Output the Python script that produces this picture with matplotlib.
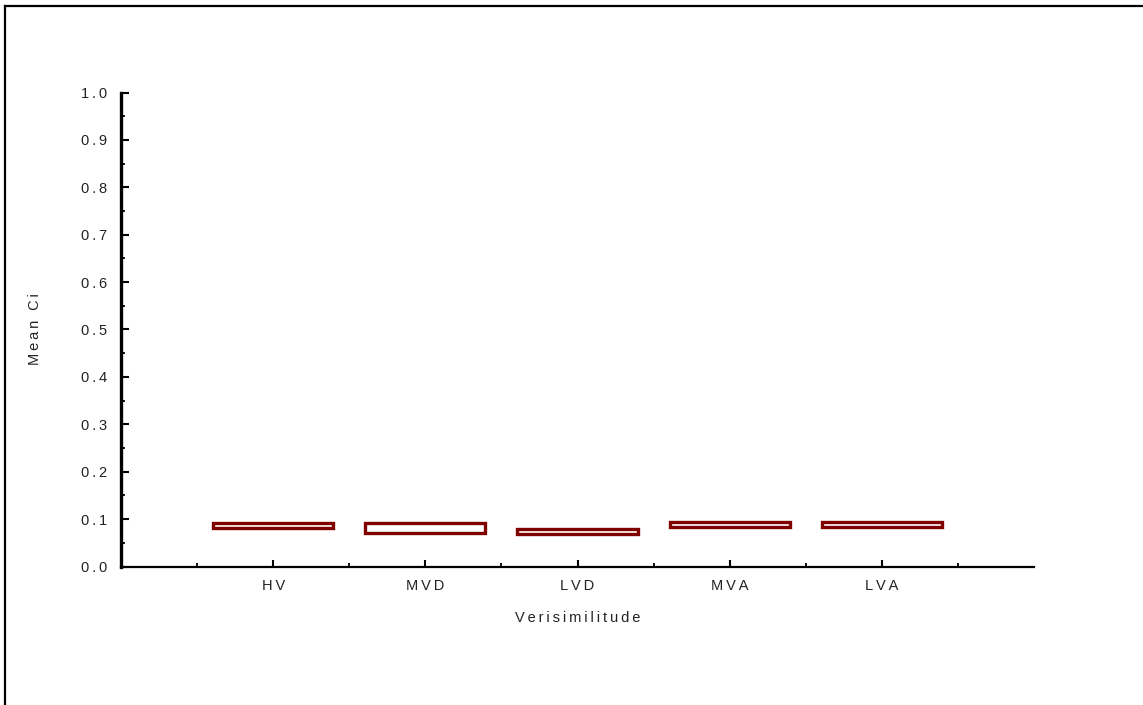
import matplotlib
matplotlib.use("Agg")
import matplotlib.pyplot as plt
from matplotlib.lines import Line2D
from matplotlib.ticker import MultipleLocator, FixedLocator

# données
categories = ["HV", "MVD", "LVD", "MVA", "LVA"]
box_low = [0.082, 0.071, 0.069, 0.0825, 0.0825]
box_high = [0.092, 0.0915, 0.080, 0.093, 0.093]

SP = "\u2009"  # espacement des lettres comme sur l'original


def espacer(txt):
    return SP.join(list(txt))


plt.rcParams['font.family'] = ['Liberation Sans', 'DejaVu Sans']

fig = plt.figure(figsize=(11.43, 7.05), dpi=100)
ax = fig.add_axes([121 / 1143, 1 - 566.5 / 705, (1034 - 121) / 1143, (566.5 - 92.5) / 705])

pos = list(range(1, len(categories) + 1))
hauteurs = [h - l for h, l in zip(box_high, box_low)]
ax.bar(pos, hauteurs, bottom=box_low, width=0.79, color='white',
       edgecolor='#800000', linewidth=2.4, zorder=3)

ax.set_xlim(0, 6)
ax.set_ylim(0, 1.0)

# axes
ax.spines['top'].set_visible(False)
ax.spines['right'].set_visible(False)
ax.spines['left'].set_linewidth(2.4)
ax.spines['bottom'].set_linewidth(1.6)

ax.yaxis.set_major_locator(MultipleLocator(0.1))
ax.yaxis.set_minor_locator(MultipleLocator(0.05))
ax.set_yticklabels([espacer("%.1f" % v) for v in ax.get_yticks()])
ax.xaxis.set_major_locator(FixedLocator(pos))
ax.xaxis.set_minor_locator(FixedLocator([p - 0.5 for p in pos] + [5.5]))
ax.set_xticklabels([espacer(c) for c in categories])

ax.tick_params(axis='y', which='major', direction='in', length=6, width=1.5,
               pad=10, labelsize=10.5, labelcolor='#222222')
ax.tick_params(axis='y', which='minor', direction='in', length=3, width=1.3)
ax.tick_params(axis='x', which='major', direction='in', length=5, width=1.5,
               pad=9, labelsize=10.5, labelcolor='#222222')
ax.tick_params(axis='x', which='minor', direction='in', length=3, width=1.3)

ax.set_ylabel(espacer("Mean Ci"), fontsize=10.5, labelpad=28, color='#222222')
ax.set_xlabel(espacer("Verisimilitude"), fontsize=10.5, labelpad=13, color='#222222')

# cadre de la figure (haut et gauche seulement)
fig.add_artist(Line2D([5 / 1143, 5 / 1143], [0, 1 - 5.5 / 705], color='black',
                      linewidth=1.6, transform=fig.transFigure))
fig.add_artist(Line2D([5 / 1143, 1], [1 - 5.5 / 705, 1 - 5.5 / 705], color='black',
                      linewidth=1.6, transform=fig.transFigure))

fig.savefig('out.png', dpi=100)
